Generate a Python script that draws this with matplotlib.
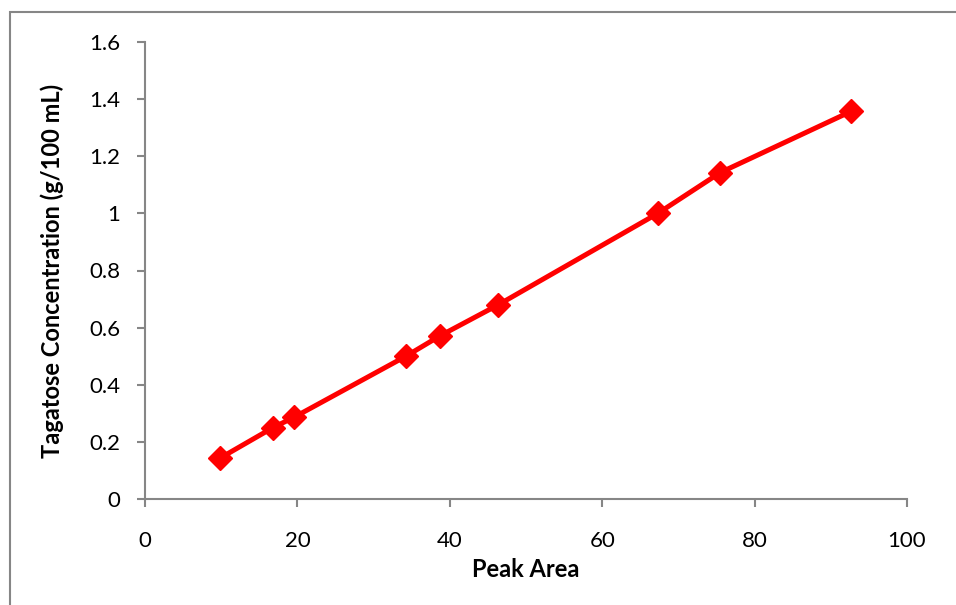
import matplotlib
matplotlib.use("Agg")
import matplotlib.pyplot as plt
from matplotlib.patches import Rectangle

peak_area = [9.84, 16.8, 19.55, 34.25, 38.7, 46.3, 67.3, 75.5, 92.65]
concentration = [0.143, 0.25, 0.286, 0.5, 0.571, 0.679, 1.0, 1.143, 1.357]
x_ticks = [0, 20, 40, 60, 80, 100]
y_ticks = [0, 0.2, 0.4, 0.6, 0.8, 1, 1.2, 1.4, 1.6]
y_tick_labels = ["0", "0.2", "0.4", "0.6", "0.8", "1", "1.2", "1.4", "1.6"]

plt.rcParams['font.family'] = ['Lato', 'DejaVu Sans']

fig = plt.figure(figsize=(9.56, 6.05), dpi=100)
W, H = 956, 605
fig.patches.append(Rectangle((9.5 / W, -0.1), 1.2, (605 - 11.5) / H + 0.1,
                             transform=fig.transFigure, fill=False,
                             edgecolor='#868686', linewidth=1.5))
ax = fig.add_axes([145 / W, (605 - 499) / H, (907 - 145) / W, (499 - 42) / H])

ax.plot(peak_area, concentration, color='#FF0000', linewidth=3.6,
        marker='D', markersize=12, markerfacecolor='#FF0000',
        markeredgecolor='#FF0000', clip_on=False)

ax.set_xlim(0, 100)
ax.set_ylim(0, 1.6)
ax.set_xticks(x_ticks)
ax.set_yticks(y_ticks)
ax.set_yticklabels(y_tick_labels)

for s in ['top', 'right']:
    ax.spines[s].set_visible(False)
for s in ['left', 'bottom']:
    ax.spines[s].set_color('#868686')
    ax.spines[s].set_linewidth(1.5)
ax.tick_params(axis='both', direction='out', length=6, width=1.5,
               color='#868686', labelsize=16, labelcolor='black')
ax.tick_params(axis='y', pad=12)
ax.tick_params(axis='x', pad=17)

ax.set_xlabel('Peak Area', fontsize=17, fontweight='bold', labelpad=5)
ax.set_ylabel('Tagatose Concentration (g/100 mL)', fontsize=17,
              fontweight='bold', labelpad=18)

fig.savefig('out.png', dpi=100)
